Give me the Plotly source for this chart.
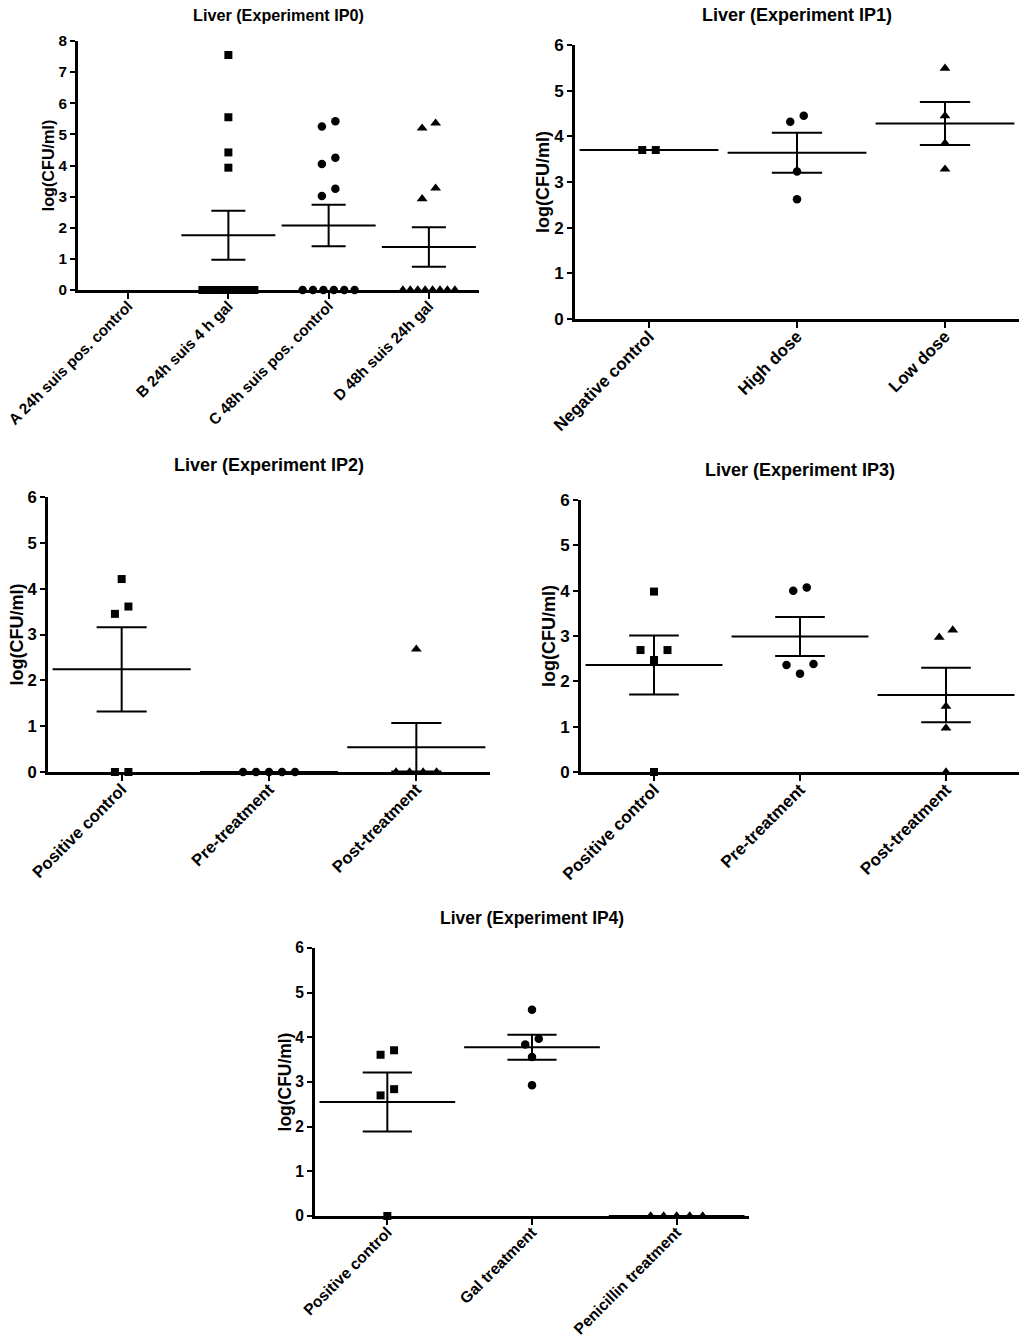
import plotly.graph_objects as go

# ---------------- data ----------------
ip0_categories = ["A 24h suis pos. control", "B 24h suis 4 h gal",
                  "C 48h suis pos. control", "D 48h suis 24h gal"]
ip0_A = []
ip0_B = [7.55, 5.55, 4.42, 3.93, 0, 0, 0, 0, 0, 0, 0, 0]
ip0_C = [5.42, 5.25, 4.25, 4.05, 3.25, 3.02, 0, 0, 0, 0, 0, 0]
ip0_D = [5.36, 5.20, 3.27, 2.93, 0, 0, 0, 0, 0, 0, 0, 0]
ip0_mean = [None, 1.76, 2.07, 1.38]
ip0_sem = [None, 0.79, 0.665, 0.635]

ip1_categories = ["Negative control", "High dose", "Low dose"]
ip1_neg = [3.70, 3.70]
ip1_high = [4.45, 4.32, 3.23, 2.62]
ip1_low = [5.49, 4.45, 3.85, 3.28]
ip1_mean = [3.70, 3.64, 4.28]
ip1_sem = [0.0, 0.44, 0.47]

ip2_categories = ["Positive control", "Pre-treatment", "Post-treatment"]
ip2_pos = [4.21, 3.61, 3.45, 0, 0]
ip2_pre = [0, 0, 0, 0, 0]
ip2_post = [2.68, 0, 0, 0, 0]
ip2_mean = [2.24, 0.0, 0.54]
ip2_sem = [0.92, 0.0, 0.53]

ip3_categories = ["Positive control", "Pre-treatment", "Post-treatment"]
ip3_pos = [3.98, 2.69, 2.69, 2.47, 0]
ip3_pre = [4.07, 4.00, 2.38, 2.36, 2.17]
ip3_post = [3.13, 2.97, 1.45, 0.97, 0]
ip3_mean = [2.36, 2.99, 1.70]
ip3_sem = [0.65, 0.43, 0.60]

ip4_categories = ["Positive control", "Gal treatment", "Penicillin treatment"]
ip4_pos = [3.71, 3.61, 2.84, 2.70, 0]
ip4_gal = [4.62, 3.97, 3.84, 3.56, 2.93]
ip4_pen = [0, 0, 0, 0, 0]
ip4_mean = [2.55, 3.78, 0.0]
ip4_sem = [0.66, 0.28, 0.0]

titles = ["Liver (Experiment IP0)", "Liver (Experiment IP1)", "Liver (Experiment IP2)",
          "Liver (Experiment IP3)", "Liver (Experiment IP4)"]
y_title = "log(CFU/ml)"
y_max = [8, 6, 6, 6, 6]

# ---------------- layout / styling ----------------
W, H = 1024, 1343
FONT = "Liberation Sans, Arial, sans-serif"
SYMBOLS = ["square", "circle", "triangle-up", "diamond"]
SIZES = {"square": 8, "circle": 8.5, "triangle-up": 9.5, "diamond": 9}

# plot-area boxes in page pixels: x0, x1, ytop, ybottom, title y, title scale, tick scale
boxes = [
    (78, 479, 41, 290, 15, 0.9, 0.9),
    (575, 1019, 45, 319, 15, 1.0, 1.0),
    (48, 490, 497, 772, 465, 1.0, 0.98),
    (581, 1019, 500, 772, 470, 1.0, 1.0),
    (315, 749, 948, 1216, 918, 0.97, 0.92),
]

panels = [
    (ip0_categories, [ip0_A, ip0_B, ip0_C, ip0_D], ip0_mean, ip0_sem),
    (ip1_categories, [ip1_neg, ip1_high, ip1_low], ip1_mean, ip1_sem),
    (ip2_categories, [ip2_pos, ip2_pre, ip2_post], ip2_mean, ip2_sem),
    (ip3_categories, [ip3_pos, ip3_pre, ip3_post], ip3_mean, ip3_sem),
    (ip4_categories, [ip4_pos, ip4_gal, ip4_pen], ip4_mean, ip4_sem),
]


def swarm_offsets(vals, px_per_unit, px_per_cat, step_px=13.5, thresh_px=11, max_half_px=26):
    """Spread near-equal values horizontally (scatter dot plot layout)."""
    order = sorted(range(len(vals)), key=lambda i: vals[i])
    clusters = []
    for i in order:
        if clusters and (vals[i] - vals[clusters[-1][-1]]) * px_per_unit < thresh_px:
            clusters[-1].append(i)
        else:
            clusters.append([i])
    offs = [0.0] * len(vals)
    for cl in clusters:
        k = len(cl)
        if k == 1:
            continue
        st = min(step_px, 2 * max_half_px / (k - 1))
        if k % 2 == 1:
            pos = [0]
            j = 1
            while len(pos) < k:
                pos += [-j, j]
                j += 1
        else:
            pos = []
            j = 0.5
            while len(pos) < k:
                pos += [-j, j]
                j += 1
        pos = pos[:k]
        for idx, p in zip(cl, pos):
            offs[idx] = p * st / px_per_cat
    return offs


fig = go.Figure()
layout = dict(
    width=W, height=H, margin=dict(l=0, r=0, t=0, b=0, pad=0),
    paper_bgcolor="white", plot_bgcolor="white", showlegend=False,
    font=dict(family=FONT, color="black"),
    annotations=[],
)

for k, ((cats, groups, means, sems), box) in enumerate(zip(panels, boxes), start=1):
    x0, x1, yt, yb, ty, fs, ts = box
    xa = "x" if k == 1 else f"x{k}"
    ya = "y" if k == 1 else f"y{k}"
    n = len(cats)
    px_per_cat = (x1 - x0) / n
    px_per_unit = (yb - yt) / y_max[k - 1]
    mean_half = 0.335 * px_per_cat
    cap_half = 0.17 * px_per_cat

    sym_i = 0
    for i, vals in enumerate(groups):
        if not vals:
            continue
        sym = SYMBOLS[sym_i % len(SYMBOLS)]
        sym_i += 1
        offs = swarm_offsets(vals, px_per_unit, px_per_cat)
        fig.add_trace(go.Scatter(
            x=[i + o for o in offs], y=vals, xaxis=xa, yaxis=ya,
            mode="markers", cliponaxis=False,
            marker=dict(symbol=sym, size=SIZES[sym], color="black", line=dict(width=0)),
            hoverinfo="y",
        ))
        if means[i] is not None:
            fig.add_trace(go.Scatter(
                x=[i], y=[means[i]], xaxis=xa, yaxis=ya, mode="markers", cliponaxis=False,
                marker=dict(symbol="line-ew", size=2 * mean_half, color="black",
                            line=dict(width=2, color="black")),
                error_y=dict(type="data", array=[sems[i]], symmetric=True, visible=True,
                             width=cap_half, thickness=2, color="black"),
                hoverinfo="y",
            ))

    layout["xaxis" if k == 1 else f"xaxis{k}"] = dict(
        domain=[x0 / W, x1 / W], anchor=ya, range=[-0.5, n - 0.5],
        tickmode="array", tickvals=list(range(n)), ticktext=cats, tickangle=-45,
        ticks="outside", ticklen=6, tickwidth=2, tickcolor="black",
        ticklabelstandoff=-8, ticklabeloverflow="allow",
        showline=True, linewidth=3, linecolor="black", showgrid=False, zeroline=False,
        tickfont=dict(family=FONT, size=17 * ts, color="black", weight="bold"),
        automargin=False, fixedrange=True,
    )
    layout["yaxis" if k == 1 else f"yaxis{k}"] = dict(
        domain=[1 - yb / H, 1 - yt / H], anchor=xa, range=[0, y_max[k - 1]],
        tickmode="linear", tick0=0, dtick=1,
        ticks="outside", ticklen=5, tickwidth=2, tickcolor="black",
        ticklabeloverflow="allow",
        showline=True, linewidth=3, linecolor="black", showgrid=False, zeroline=False,
        tickfont=dict(family=FONT, size=17 * ts, color="black", weight="bold"),
        title=dict(text=y_title, standoff=0,
                   font=dict(family=FONT, size=18 * fs, color="black", weight="bold")),
        automargin=False, fixedrange=True,
    )
    layout["annotations"].append(dict(
        text=titles[k - 1], xref="paper", yref="paper",
        x=(x0 + x1) / 2 / W, y=1 - ty / H, xanchor="center", yanchor="middle",
        showarrow=False, font=dict(family=FONT, size=18 * fs, color="black", weight="bold"),
    ))

fig.update_layout(**layout)
# remove the default 8px page margin so the figure fills the window exactly
fig.write_html("out.html", config={"displayModeBar": False, "staticPlot": True},
               post_script="document.body.style.margin='0';")
